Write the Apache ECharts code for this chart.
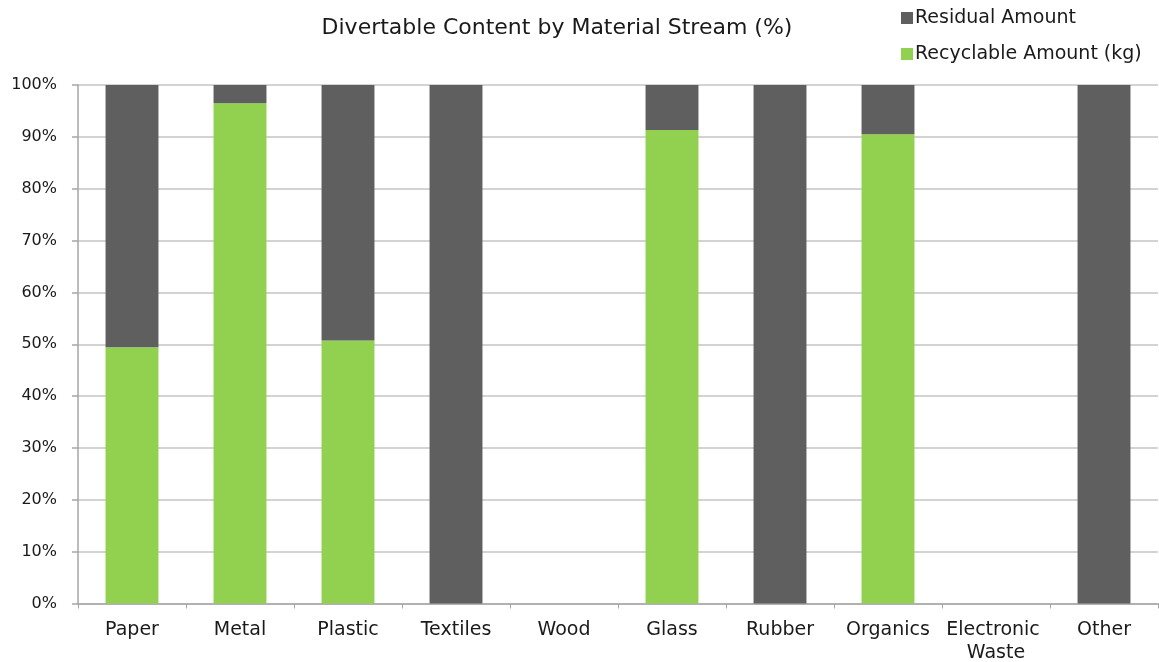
<!DOCTYPE html>
<html>
<head>
<meta charset="utf-8">
<script src="https://cdn.jsdelivr.net/npm/echarts@6/dist/echarts.min.js"></script>
<style>
html,body{margin:0;padding:0;background:#fff;}
#chart{width:1159px;height:662px;}
</style>
</head>
<body>
<div id="chart"></div>
<script>
const categories = ['Paper','Metal','Plastic','Textiles','Wood','Glass','Rubber','Organics','Electronic Waste','Other'];
const recyclable = [49.4, 96.5, 50.7, 0, 0, 91.3, 0, 90.5, 0, 0];
const residual = [50.6, 3.5, 49.3, 100, 0, 8.7, 100, 9.5, 0, 100];
const yTicks = [0,10,20,30,40,50,60,70,80,90,100];

const font = '"DejaVu Sans", sans-serif';
const chart = echarts.init(document.getElementById('chart'));
chart.setOption({
  animation: false,
  textStyle: {fontFamily: font},
  title: {
    text: 'Divertable Content by Material Stream (%)',
    left: 552, top: 12, textAlign: 'center',
    textStyle: {fontFamily: font, fontSize: 22, fontWeight: 'normal', color: '#1a1a1a'}
  },
  legend: {
    orient: 'vertical', left: 896, top: 2, itemGap: 14,
    itemWidth: 12, itemHeight: 12, icon: 'rect',
    data: ['Residual Amount', 'Recyclable Amount (kg)'],
    textStyle: {fontFamily: font, fontSize: 19, color: '#1a1a1a', lineHeight: 22, padding: [0,0,0,-3]}
  },
  grid: {left: 78, right: 1, top: 85, bottom: 58.5, containLabel: false, outerBoundsMode: 'none'},
  xAxis: {
    type: 'category', data: categories,
    axisLine: {lineStyle: {color: '#a6a6a6', width: 1.5}},
    axisTick: {show: true, length: 5, lineStyle: {color: '#a6a6a6'}},
    axisLabel: {fontFamily: font, fontSize: 19, color: '#1a1a1a', margin: 15, interval: 0,
      width: 106, overflow: 'break', lineHeight: 23}
  },
  yAxis: {
    type: 'value', min: 0, max: 100, interval: 10,
    axisLine: {show: true, lineStyle: {color: '#a6a6a6', width: 1.5}},
    axisTick: {show: true, length: 6, lineStyle: {color: '#a6a6a6', width: 1.5}},
    splitLine: {lineStyle: {color: '#c4c4c4', width: 1.5}},
    axisLabel: {fontFamily: font, fontSize: 16, color: '#1a1a1a', margin: 21,
      formatter: v => yTicks.includes(v) ? v + '%' : ''}
  },
  series: [
    {name: 'Recyclable Amount (kg)', type: 'bar', stack: 'a', data: recyclable,
      barWidth: '49%', itemStyle: {color: '#92d050'}},
    {name: 'Residual Amount', type: 'bar', stack: 'a', data: residual,
      barWidth: '49%', itemStyle: {color: '#5f5f5f'}}
  ]
});
</script>
</body>
</html>
